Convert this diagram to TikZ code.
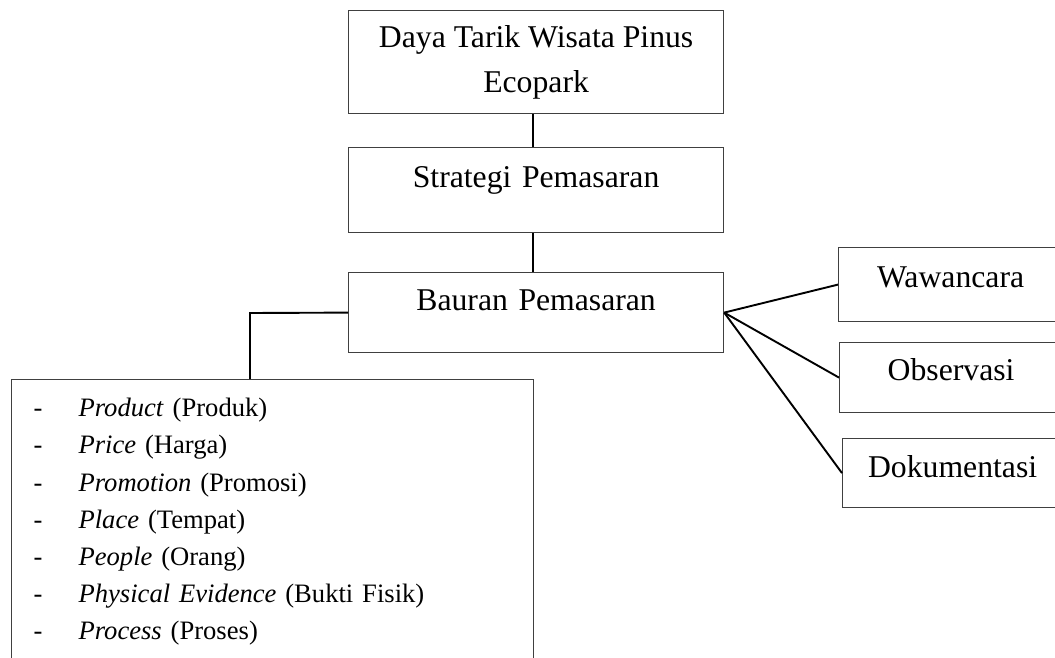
\documentclass[tikz,border=0pt]{standalone}
\usepackage{fontspec}
\setmainfont{Liberation Serif}
\usepackage{tikz}
\tikzstyle{line} = [line width=1.9pt,black]
\tikzstyle{box} = [draw=black!75,line width=1.2pt,rectangle,inner sep=0pt,anchor=north west,align=center,font=\fontsize{31.7}{45}\selectfont]

\begin{document}
\begin{tikzpicture}[x=1pt,y=-1pt]
          \path[use as bounding box,clip] (0,0) rectangle (1055,658);
          \node[box,minimum width=375pt,minimum height=103pt] at (348,10) (daya) {Daya Tarik Wisata Pinus\\Ecopark};
          \node[box,text width=375pt,text height=40pt,text depth=45pt] at (348,147) (strategi) {Strategi Pemasaran};
          \node[box,text width=375pt,text height=38pt,text depth=42pt] at (348,272) (bauran) {Bauran Pemasaran};
          \node[box,text width=224pt,text height=40pt,text depth=34pt] at (838,247) (wawancara) {Wawancara};
          \node[box,text width=223pt,text height=38pt,text depth=32pt] at (839,342) (observasi) {Observasi};
          \node[box,text width=220pt,text height=39pt,text depth=30pt] at (842,438) (dokumentasi) {Dokumentasi};
          \node[box,text width=478pt,inner xsep=22pt,inner ysep=11pt,align=left,font=\fontsize{26.6}{37.2}\selectfont] at (11,379) (bauranlist) {%
            \begin{tabular}{@{}p{45pt}@{}l@{}}
            - & \textit{Product} (Produk)\\
            - & \textit{Price} (Harga)\\
            - & \textit{Promotion} (Promosi)\\
            - & \textit{Place} (Tempat)\\
            - & \textit{People} (Orang)\\
            - & \textit{Physical Evidence} (Bukti Fisik)\\
            - & \textit{Process} (Proses)\\[30pt]
            \end{tabular}};
          \coordinate (elbow) at (250,313);

          \draw[line] (daya.south -| 533,0) -- (strategi.north -| 533,0);
          \draw[line] (strategi.south -| 533,0) -- (bauran.north -| 533,0);
          \draw[line] (bauran.west) -- (elbow) -- (elbow |- bauranlist.north);
          \draw[line] (bauran.east) -- (wawancara.west);
          \draw[line] (bauran.east) -- (observasi.west);
          \draw[line] (bauran.east) -- (dokumentasi.west);
        \end{tikzpicture}
\end{document}
